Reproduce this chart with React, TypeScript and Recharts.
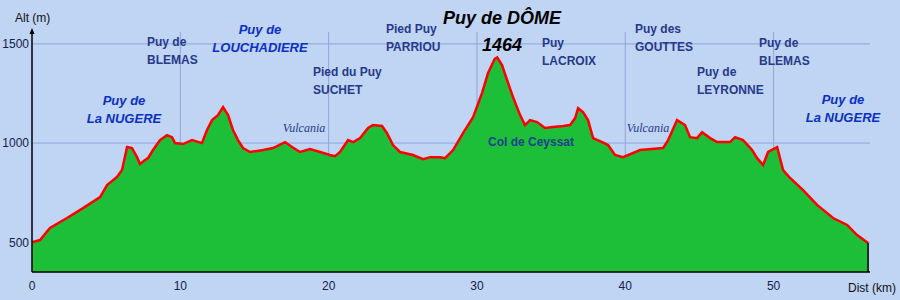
import React from "react";
import { AreaChart, Area, XAxis, YAxis, CartesianGrid, ReferenceLine } from "recharts";

// profile (km, m)
const distKm = [
  0, 0.54, 1.21, 2.36, 3.44, 4.59, 5.06, 5.73, 6.07, 6.41, 6.74, 7.08, 7.28, 7.62, 7.82, 8.16, 8.63,
  9.1, 9.44, 9.64, 10.18, 10.79, 11.46, 11.8, 12.14, 12.54, 12.88, 13.22, 13.55, 13.89, 14.23, 14.7,
  15.58, 16.25, 17.06, 17.53, 18.07, 18.75, 19.42, 20.09, 20.43, 20.77, 21.31, 21.65, 22.12, 22.66,
  22.99, 23.6, 23.94, 24.34, 24.81, 25.69, 26.37, 26.84, 27.51, 27.85, 28.39, 29.06, 29.74, 30.34,
  30.75, 31.2, 31.36, 31.69, 32.03, 32.43, 32.91, 33.24, 33.58, 34.05, 34.59, 35.13, 35.81, 36.28,
  36.62, 36.82, 37.15, 37.49, 37.83, 38.44, 38.84, 39.31, 39.85, 40.53, 41.0, 42.55, 42.89, 43.49,
  44.03, 44.37, 44.84, 45.18, 45.72, 46.19, 47.07, 47.4, 47.94, 48.55, 48.89, 49.29, 49.63, 50.24,
  50.64, 51.11, 51.99, 52.93, 54.01, 54.96, 55.63, 56.37,
];
const altM = [
  500, 511, 572, 622, 672, 728, 788, 829, 864, 980, 975, 929, 894, 914, 924, 965, 1015,
  1040, 1030, 1000, 995, 1015, 1000, 1066, 1116, 1141, 1181, 1141, 1066, 1015, 975, 955,
  965, 975, 1005, 980, 955, 970, 955, 940, 934, 955, 1015, 1005, 1025, 1076,
  1091, 1086, 1050, 990, 955, 940, 919, 929, 929, 924, 965, 1050, 1131, 1252,
  1353, 1425, 1432, 1393, 1318, 1232, 1141, 1091, 1116, 1106, 1076, 1081, 1086, 1091,
  1126, 1176, 1156, 1116, 1025, 1005, 990, 940, 929, 950, 965, 975, 1015, 1116,
  1091, 1030, 1025, 1055, 1025, 1005, 1005, 1030, 1015, 965, 924, 889, 955, 980,
  864, 824, 763, 688, 622, 587, 536, 496,
];
const xTicks = [0, 10, 20, 30, 40, 50];
const yTicks = [500, 1000, 1500];
const xGrid = [10, 20, 30, 40, 50];

const data = distKm.map((d, i) => ({ d, alt: altM[i] }));
const lastD = distKm[distKm.length - 1];
const lastAlt = altM[altM.length - 1];

const BLUE = "#0a2fc4";
const NAVY = "#26398a";
const FONT = "'Liberation Sans', Arial, sans-serif";

type Lbl = {
  lines: string[];
  x: number;
  y: number;
  anchor?: "start" | "middle" | "end";
  color?: string;
  size?: number;
  weight?: string;
  italic?: boolean;
  family?: string;
  gap?: number;
};

const labels: Lbl[] = [
  { lines: ["Puy de", "La NUGERE"], x: 124, y: 100, anchor: "middle", color: BLUE, size: 13, italic: true },
  { lines: ["Puy de", "BLEMAS"], x: 147, y: 42, color: NAVY, size: 12 },
  { lines: ["Puy de", "LOUCHADIERE"], x: 260, y: 29, anchor: "middle", color: BLUE, size: 13, italic: true },
  { lines: ["Pied du Puy", "SUCHET"], x: 313, y: 72, color: NAVY, size: 12 },
  { lines: ["Pied Puy", "PARRIOU"], x: 386, y: 29, color: NAVY, size: 12 },
  { lines: ["Puy de DÔME"], x: 502, y: 18, anchor: "middle", color: "#000", size: 18, italic: true },
  { lines: ["1464"], x: 502, y: 45, anchor: "middle", color: "#000", size: 18, italic: true },
  { lines: ["Puy", "LACROIX"], x: 542, y: 43, color: NAVY, size: 12 },
  { lines: ["Vulcania"], x: 304, y: 128, anchor: "middle", color: NAVY, size: 12, weight: "normal", italic: true, family: "'Liberation Serif', 'Times New Roman', serif" },
  { lines: ["Col de Ceyssat"], x: 531, y: 142, anchor: "middle", color: "#1d3f8e", size: 12 },
  { lines: ["Vulcania"], x: 648, y: 128, anchor: "middle", color: NAVY, size: 12, weight: "normal", italic: true, family: "'Liberation Serif', 'Times New Roman', serif" },
  { lines: ["Puy des", "GOUTTES"], x: 635, y: 29, color: NAVY, size: 12 },
  { lines: ["Puy de", "LEYRONNE"], x: 697, y: 72, color: NAVY, size: 12 },
  { lines: ["Puy de", "BLEMAS"], x: 759, y: 43, color: NAVY, size: 12 },
  { lines: ["Puy de", "La NUGERE"], x: 843, y: 99, anchor: "middle", color: BLUE, size: 13, italic: true },
];

function Overlay() {
  return (
    <svg width={900} height={300} style={{ position: "absolute", left: 0, top: 0, pointerEvents: "none" }}>
      <path d="M32 28 L29.5 34 L34.5 34 Z" fill="#000" />
      <text x={15} y={18} dominantBaseline="central" fontSize={12} fontFamily={FONT} fill="#111">
        Alt (m)
      </text>
      <text x={848} y={288} dominantBaseline="central" fontSize={12} fontFamily={FONT} fill="#111">
        Dist (km)
      </text>
      {labels.map((l, i) =>
        l.lines.map((t, j) => (
          <text
            key={i + "-" + j}
            x={l.x}
            y={l.y + j * (l.gap ?? 18)}
            textAnchor={l.anchor ?? "start"}
            dominantBaseline="central"
            fontSize={l.size ?? 12}
            fontWeight={l.weight ?? "bold"}
            fontStyle={l.italic ? "italic" : "normal"}
            fontFamily={l.family ?? FONT}
            fill={l.color}
          >
            {t}
          </text>
        ))
      )}
    </svg>
  );
}

export default function App() {
  return (
    <div style={{ position: "absolute", left: 0, top: 0, width: 900, height: 300, background: "#c0d4f4" }}>
      <AreaChart width={900} height={300} data={data} margin={{ top: 32, right: 30, left: 0, bottom: 0 }}>
        <CartesianGrid
          stroke="#8ea6de"
          strokeWidth={1}
          horizontalValues={yTicks}
          verticalValues={xGrid}
        />
        <XAxis
          dataKey="d"
          type="number"
          domain={[0, 56.5]}
          ticks={xTicks}
          height={28}
          tickLine={false}
          tickSize={0}
          tickMargin={9}
          axisLine={{ stroke: "#000", strokeWidth: 1.5 }}
          tick={{ fill: "#14224a", fontSize: 12, fontFamily: FONT }}
        />
        <YAxis
          type="number"
          domain={[350, 1560]}
          ticks={yTicks}
          width={32}
          tickLine={false}
          tickSize={0}
          tickMargin={3}
          axisLine={{ stroke: "#000", strokeWidth: 1.5 }}
          tick={{ fill: "#14224a", fontSize: 12, fontFamily: FONT }}
        />
        <Area
          type="linear"
          dataKey="alt"
          stroke="#ff0000"
          strokeWidth={2.5}
          fill="#1ebf38"
          fillOpacity={1}
          isAnimationActive={false}
          dot={false}
          activeDot={false}
        />
        <ReferenceLine
          segment={[
            { x: lastD, y: 350 },
            { x: lastD, y: lastAlt },
          ]}
          stroke="#000"
          strokeWidth={1.5}
        />
      </AreaChart>
      <Overlay />
    </div>
  );
}
